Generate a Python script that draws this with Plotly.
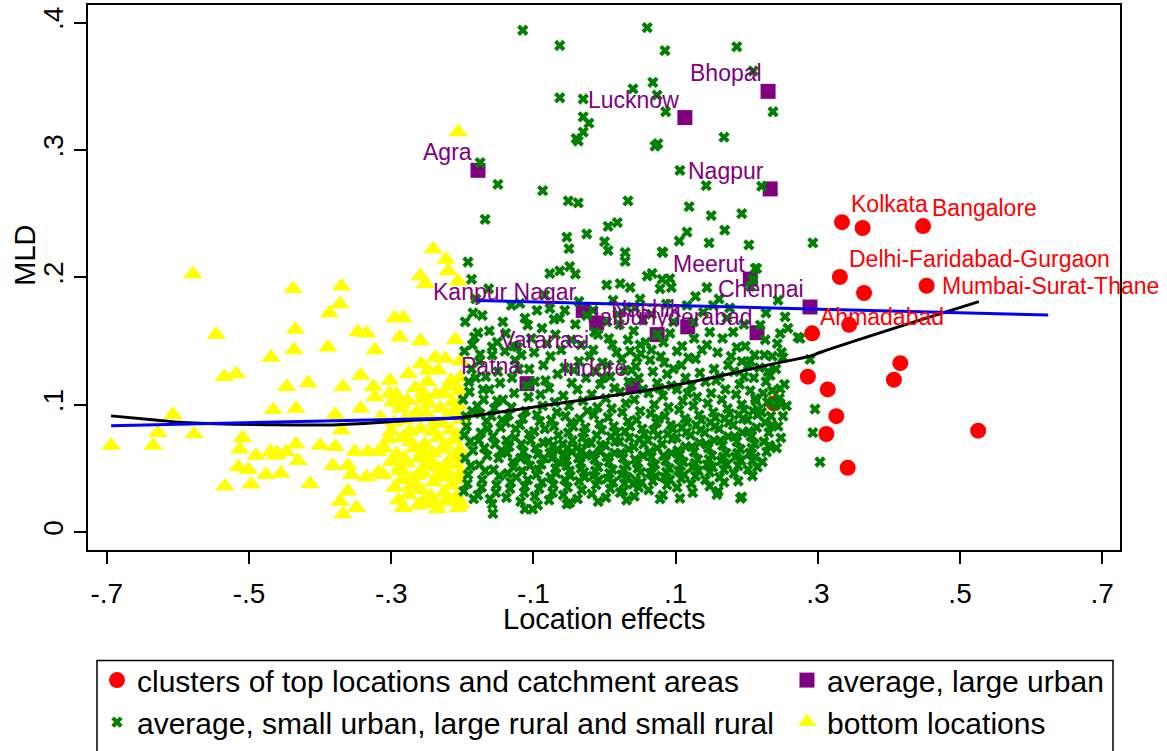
import plotly.graph_objects as go

# ---------------- data ----------------
red_x = [0.334, 0.363, 0.448, 0.331, 0.365, 0.453, 0.344, 0.292, 0.286, 0.314, 0.326, 0.312, 0.342, 0.238, 0.407, 0.416, 0.5255]
red_y = [0.2433, 0.2387, 0.2402, 0.2003, 0.1877, 0.1934, 0.1627, 0.156, 0.122, 0.112, 0.091, 0.077, 0.0505, 0.101, 0.1196, 0.1326, 0.0796]
red_names = ["Kolkata", "", "Bangalore", "Delhi-Faridabad-Gurgaon", "", "Mumbai-Surat-Thane", "", "Ahmadabad",
             "", "", "", "", "", "", "", "", ""]

purple_names = ["Bhopal", "Lucknow", "Agra", "Nagpur", "Meerut", "Chennai", "Kanpur Nagar", "Varanasi",
                "Jaipur", "Nashik", "Hyderabad", "Patna", "Indore"]
purple_x = [0.230, 0.113, -0.178, 0.233, 0.205, 0.289, -0.030, -0.011, 0.074, 0.117, 0.2145, -0.109, 0.040]
purple_y = [0.346, 0.3254, 0.284, 0.2694, 0.1986, 0.1767, 0.174, 0.1642, 0.155, 0.1611, 0.1565, 0.1165, 0.115]

yellow_pts = [
    (-0.694, 0.068), (-0.635, 0.068), (-0.628, 0.078), (-0.607, 0.092), (-0.577, 0.077), (-0.579, 0.2025),
    (-0.546, 0.155), (-0.535, 0.122), (-0.518, 0.124), (-0.534, 0.036), (-0.509, 0.074), (-0.513, 0.065),
    (-0.515, 0.051), (-0.501, 0.049), (-0.497, 0.0375), (-0.490, 0.060), (-0.476, 0.045), (-0.470, 0.063),
    (-0.469, 0.137), (-0.466, 0.096), (-0.455, 0.046), (-0.462, 0.060), (-0.448, 0.063), (-0.447, 0.114),
    (-0.438, 0.191), (-0.435, 0.159), (-0.437, 0.143), (-0.434, 0.097), (-0.434, 0.069), (-0.431, 0.056),
    (-0.417, 0.117), (-0.414, 0.038), (-0.400, 0.068), (-0.389, 0.145), (-0.387, 0.172), (-0.379, 0.067),
    (-0.382, 0.052), (-0.372, 0.179), (-0.370, 0.193), (-0.379, 0.092), (-0.368, 0.114), (-0.370, 0.080),
    (-0.372, 0.024), (-0.368, 0.014), (-0.361, 0.032), (-0.349, 0.019), (-0.361, 0.052), (-0.356, 0.045),
    (-0.351, 0.063), (-0.347, 0.157), (-0.335, 0.156), (-0.343, 0.123), (-0.343, 0.097), (-0.335, 0.043),
    (-0.333, 0.063), (-0.325, 0.114), (-0.323, 0.143), (-0.323, 0.106), (-0.318, 0.063), (-0.311, 0.045),
    (-0.304, 0.073), (-0.302, 0.119), (-0.302, 0.109), (-0.295, 0.168), (-0.283, 0.168), (-0.288, 0.153),
    (-0.283, 0.019), (-0.288, 0.050), (-0.286, 0.101), (-0.276, 0.124), (-0.270, 0.0375), (-0.259, 0.150),
    (-0.258, 0.132), (-0.255, 0.024), (-0.259, 0.201), (-0.252, 0.195), (-0.241, 0.222), (-0.223, 0.214),
    (-0.220, 0.205), (-0.206, 0.197), (-0.210, 0.151), (-0.203, 0.134), (-0.238, 0.137), (-0.224, 0.136),
    (-0.248, 0.127), (-0.234, 0.127), (-0.216, 0.119), (-0.227, 0.109), (-0.255, 0.109), (-0.238, 0.022),
    (-0.223, 0.024), (-0.202, 0.022), (-0.206, 0.314), (-0.461, 0.062),
    (-0.295, 0.035), (-0.288, 0.048), (-0.292, 0.061), (-0.284, 0.074), (-0.296, 0.086), (-0.287, 0.097),
    (-0.293, 0.108), (-0.282, 0.058), (-0.290, 0.025), (-0.276, 0.029), (-0.272, 0.042), (-0.279, 0.054),
    (-0.268, 0.066), (-0.274, 0.079), (-0.270, 0.091), (-0.277, 0.103), (-0.266, 0.113), (-0.273, 0.071),
    (-0.269, 0.036), (-0.262, 0.021), (-0.258, 0.033), (-0.255, 0.046), (-0.261, 0.058), (-0.253, 0.069),
    (-0.259, 0.081), (-0.251, 0.093), (-0.257, 0.104), (-0.249, 0.118), (-0.256, 0.063), (-0.252, 0.052),
    (-0.244, 0.028), (-0.240, 0.039), (-0.236, 0.051), (-0.242, 0.062), (-0.234, 0.074), (-0.239, 0.086),
    (-0.231, 0.097), (-0.237, 0.108), (-0.233, 0.045), (-0.241, 0.079), (-0.229, 0.065), (-0.235, 0.018),
    (-0.226, 0.031), (-0.222, 0.043), (-0.219, 0.056), (-0.224, 0.068), (-0.217, 0.080), (-0.221, 0.091),
    (-0.214, 0.102), (-0.218, 0.114), (-0.215, 0.037), (-0.223, 0.049), (-0.212, 0.072), (-0.220, 0.025),
    (-0.208, 0.028), (-0.205, 0.041), (-0.209, 0.053), (-0.203, 0.064), (-0.207, 0.076), (-0.202, 0.088),
    (-0.206, 0.099), (-0.204, 0.111), (-0.201, 0.047), (-0.210, 0.060), (-0.203, 0.121), (-0.206, 0.019),
    (-0.300, 0.079), (-0.298, 0.102), (-0.281, 0.088), (-0.263, 0.094), (-0.247, 0.101), (-0.228, 0.085),
    (-0.211, 0.094), (-0.246, 0.056), (-0.264, 0.044), (-0.285, 0.041), (-0.300, 0.055), (-0.310, 0.066),
    (-0.315, 0.090), (-0.318, 0.047),
]

green_sparse = [
    (-0.115, 0.394), (0.060, 0.396), (-0.063, 0.382), (0.085, 0.378), (0.186, 0.381), (0.209, 0.362),
    (0.068, 0.353), (0.040, 0.348), (-0.063, 0.341), (-0.030, 0.340), (0.074, 0.343), (0.086, 0.330),
    (0.237, 0.330), (-0.030, 0.326), (-0.022, 0.321), (-0.030, 0.314), (-0.040, 0.309), (-0.037, 0.307),
    (0.075, 0.305), (0.071, 0.303), (0.168, 0.310), (-0.175, 0.290), (0.106, 0.284), (0.143, 0.272),
    (0.221, 0.2715), (-0.150, 0.273), (-0.087, 0.268), (-0.051, 0.260), (-0.037, 0.2585), (0.033, 0.260),
    (-0.168, 0.2455), (0.119, 0.2555), (0.150, 0.2485), (0.193, 0.250), (0.169, 0.237), (0.116, 0.2355),
    (0.005, 0.240), (0.018, 0.243), (-0.053, 0.2315), (-0.025, 0.234), (0.000, 0.228), (-0.050, 0.2225),
    (0.005, 0.221), (0.029, 0.2195), (0.082, 0.2195), (0.105, 0.2285), (0.147, 0.227), (0.203, 0.2255),
    (-0.192, 0.212), (-0.187, 0.1985), (0.029, 0.2125), (0.081, 0.220), (-0.077, 0.203), (-0.049, 0.2085),
    (-0.041, 0.2025), (-0.063, 0.205), (0.003, 0.194), (0.022, 0.195), (0.036, 0.192), (0.060, 0.201),
    (0.067, 0.203), (0.081, 0.1985), (0.092, 0.199), (0.094, 0.192), (0.078, 0.191), (0.144, 0.192),
    (0.212, 0.207), (0.205, 0.193), (0.209, 0.1985), (-0.196, 0.165), (-0.185, 0.172), (-0.172, 0.170),
    (-0.143, 0.165), (-0.178, 0.1565), (-0.186, 0.147), (-0.158, 0.1455), (-0.175, 0.1395), (-0.140, 0.142),
    (-0.123, 0.1455), (-0.108, 0.1625), (-0.119, 0.1795), (-0.095, 0.174), (-0.077, 0.1755), (-0.063, 0.168),
    (-0.056, 0.174), (-0.025, 0.170), (-0.009, 0.155), (0.003, 0.165), (0.012, 0.182), (0.031, 0.1765),
    (0.050, 0.183), (0.054, 0.1665), (0.050, 0.147), (0.036, 0.142), (0.074, 0.155), (0.092, 0.156),
    (0.097, 0.165), (0.102, 0.142), (0.116, 0.178), (0.125, 0.165), (0.139, 0.1725), (0.153, 0.178),
    (0.148, 0.157), (0.144, 0.147), (0.172, 0.168), (0.181, 0.157), (0.186, 0.145), (0.193, 0.134),
    (0.205, 0.134), (0.219, 0.1625), (0.247, 0.156), (0.258, 0.160), (0.272, 0.153), (0.233, 0.123),
    (0.247, 0.1125), (0.240, 0.0995), (0.236, 0.084), (0.212, 0.105), (0.216, 0.096), (0.207, 0.0755),
    (0.191, 0.0265), (0.158, 0.0295), (0.106, 0.0265), (0.078, 0.026), (0.040, 0.0375), (0.026, 0.032),
    (-0.053, 0.022), (-0.101, 0.018), (-0.157, 0.0145), (-0.161, 0.026), (0.237, 0.1025), (0.247, 0.101),
    (0.296, 0.0965), (0.293, 0.078), (0.303, 0.055), (0.215, 0.051), (0.193, 0.0275), (0.160, 0.032),
    (0.289, 0.1355), (0.251, 0.137), (0.275, 0.152), (0.293, 0.227), (0.214, 0.207), (0.244, 0.182),
    (0.254, 0.169),
]

green_band = [
    (-0.197, 0.142), (-0.183, 0.153), (-0.162, 0.158), (-0.151, 0.149), (-0.139, 0.156), (-0.128, 0.146),
    (-0.117, 0.139), (-0.103, 0.152), (-0.099, 0.141), (-0.088, 0.160), (-0.081, 0.148), (-0.069, 0.155),
    (-0.061, 0.143), (-0.047, 0.151), (-0.041, 0.163), (-0.033, 0.147), (-0.021, 0.138), (-0.014, 0.157),
    (-0.003, 0.133), (0.006, 0.152), (0.017, 0.141), (0.021, 0.163), (0.033, 0.151), (0.041, 0.158),
    (0.046, 0.137), (0.058, 0.149), (0.066, 0.143), (0.079, 0.138), (0.083, 0.149), (0.097, 0.128),
    (0.109, 0.146), (0.118, 0.137), (0.126, 0.152), (0.137, 0.143), (0.159, 0.141), (0.166, 0.152),
    (0.178, 0.138), (0.198, 0.146), (0.211, 0.139), (0.226, 0.151), (0.236, 0.138), (-0.181, 0.183),
    (-0.163, 0.191), (-0.131, 0.178), (-0.112, 0.168), (-0.084, 0.186), (-0.071, 0.167), (-0.036, 0.181),
    (-0.016, 0.174), (0.019, 0.171), (0.043, 0.176), (0.066, 0.171), (0.087, 0.179), (0.128, 0.185),
    (0.161, 0.183), (0.176, 0.176), (0.196, 0.163), (0.227, 0.172), (-0.121, 0.128), (-0.083, 0.119),
    (-0.043, 0.127), (-0.002, 0.121), (0.038, 0.127), (0.077, 0.113), (0.117, 0.109), (0.157, 0.119),
    (0.196, 0.122), (-0.162, 0.112), (-0.143, 0.104), (-0.181, 0.121), (0.236, 0.111), (0.218, 0.129),
]

green_core = [
    (-0.198, 0.032), (-0.192, 0.045), (-0.196, 0.058), (-0.189, 0.071), (-0.194, 0.083), (-0.186, 0.095),
    (-0.199, 0.104), (-0.191, 0.118), (-0.188, 0.052), (-0.197, 0.076), (-0.185, 0.064), (-0.193, 0.038),
    (-0.187, 0.128), (-0.195, 0.091), (-0.184, 0.026), (-0.190, 0.110),
    (-0.178, 0.029), (-0.172, 0.041), (-0.176, 0.053), (-0.169, 0.066), (-0.174, 0.078), (-0.166, 0.087),
    (-0.179, 0.099), (-0.171, 0.112), (-0.168, 0.048), (-0.177, 0.072), (-0.165, 0.060), (-0.173, 0.035),
    (-0.167, 0.122), (-0.175, 0.093), (-0.164, 0.081), (-0.170, 0.104), (-0.176, 0.134),
    (-0.158, 0.022), (-0.152, 0.037), (-0.156, 0.049), (-0.149, 0.058), (-0.154, 0.069), (-0.146, 0.082),
    (-0.159, 0.091), (-0.151, 0.103), (-0.148, 0.044), (-0.157, 0.075), (-0.145, 0.064), (-0.153, 0.031),
    (-0.147, 0.117), (-0.155, 0.097), (-0.144, 0.088), (-0.150, 0.126), (-0.158, 0.139),
    (-0.138, 0.027), (-0.132, 0.039), (-0.136, 0.046), (-0.129, 0.055), (-0.134, 0.067), (-0.126, 0.074),
    (-0.139, 0.086), (-0.131, 0.098), (-0.128, 0.051), (-0.137, 0.062), (-0.125, 0.081), (-0.133, 0.034),
    (-0.127, 0.109), (-0.135, 0.092), (-0.124, 0.043), (-0.130, 0.121), (-0.138, 0.072), (-0.126, 0.135),
    (-0.118, 0.024), (-0.112, 0.036), (-0.116, 0.048), (-0.109, 0.057), (-0.114, 0.063), (-0.106, 0.077),
    (-0.119, 0.084), (-0.111, 0.095), (-0.108, 0.041), (-0.117, 0.069), (-0.105, 0.052), (-0.113, 0.031),
    (-0.107, 0.106), (-0.115, 0.089), (-0.104, 0.072), (-0.110, 0.115), (-0.118, 0.058), (-0.106, 0.128),
    (-0.112, 0.018),
    (-0.098, 0.028), (-0.092, 0.034), (-0.096, 0.045), (-0.089, 0.053), (-0.094, 0.061), (-0.086, 0.070),
    (-0.099, 0.079), (-0.091, 0.087), (-0.088, 0.039), (-0.097, 0.066), (-0.085, 0.058), (-0.093, 0.049),
    (-0.087, 0.099), (-0.095, 0.092), (-0.084, 0.081), (-0.090, 0.108), (-0.098, 0.118), (-0.086, 0.131),
    (-0.094, 0.021),
    (-0.078, 0.025), (-0.072, 0.037), (-0.076, 0.043), (-0.069, 0.050), (-0.074, 0.058), (-0.066, 0.064),
    (-0.079, 0.071), (-0.071, 0.083), (-0.068, 0.046), (-0.077, 0.062), (-0.065, 0.076), (-0.073, 0.031),
    (-0.067, 0.094), (-0.075, 0.088), (-0.064, 0.055), (-0.070, 0.102), (-0.078, 0.113), (-0.066, 0.124),
    (-0.072, 0.068), (-0.076, 0.138),
    (-0.058, 0.029), (-0.052, 0.035), (-0.056, 0.041), (-0.049, 0.048), (-0.054, 0.056), (-0.046, 0.063),
    (-0.059, 0.069), (-0.051, 0.078), (-0.048, 0.044), (-0.057, 0.061), (-0.045, 0.072), (-0.053, 0.052),
    (-0.047, 0.086), (-0.055, 0.091), (-0.044, 0.083), (-0.050, 0.099), (-0.058, 0.107), (-0.046, 0.117),
    (-0.052, 0.066), (-0.056, 0.129), (-0.049, 0.023),
    (-0.038, 0.026), (-0.032, 0.033), (-0.036, 0.040), (-0.029, 0.047), (-0.034, 0.054), (-0.026, 0.060),
    (-0.039, 0.066), (-0.031, 0.074), (-0.028, 0.043), (-0.037, 0.058), (-0.025, 0.070), (-0.033, 0.050),
    (-0.027, 0.082), (-0.035, 0.089), (-0.024, 0.095), (-0.030, 0.103), (-0.038, 0.112), (-0.026, 0.121),
    (-0.032, 0.064), (-0.036, 0.134), (-0.029, 0.078),
    (-0.018, 0.030), (-0.012, 0.037), (-0.016, 0.044), (-0.009, 0.051), (-0.014, 0.057), (-0.006, 0.063),
    (-0.019, 0.070), (-0.011, 0.076), (-0.008, 0.041), (-0.017, 0.061), (-0.005, 0.068), (-0.013, 0.048),
    (-0.007, 0.085), (-0.015, 0.092), (-0.004, 0.080), (-0.010, 0.098), (-0.018, 0.108), (-0.006, 0.116),
    (-0.012, 0.126), (-0.016, 0.143), (-0.009, 0.024),
    (0.002, 0.027), (0.008, 0.034), (0.004, 0.042), (0.011, 0.049), (0.006, 0.055), (0.014, 0.062),
    (0.001, 0.068), (0.009, 0.075), (0.012, 0.039), (0.003, 0.059), (0.015, 0.071), (0.007, 0.046),
    (0.013, 0.083), (0.005, 0.090), (0.016, 0.078), (0.010, 0.097), (0.002, 0.105), (0.014, 0.113),
    (0.008, 0.122), (0.004, 0.131), (0.011, 0.147),
    (0.022, 0.031), (0.028, 0.038), (0.024, 0.045), (0.031, 0.052), (0.026, 0.058), (0.034, 0.065),
    (0.021, 0.071), (0.029, 0.079), (0.032, 0.043), (0.023, 0.062), (0.035, 0.074), (0.027, 0.049),
    (0.033, 0.087), (0.025, 0.094), (0.036, 0.083), (0.030, 0.101), (0.022, 0.110), (0.034, 0.118),
    (0.028, 0.127), (0.024, 0.136), (0.031, 0.025),
    (0.042, 0.028), (0.048, 0.035), (0.044, 0.041), (0.051, 0.047), (0.046, 0.054), (0.054, 0.060),
    (0.041, 0.067), (0.049, 0.073), (0.052, 0.039), (0.043, 0.057), (0.055, 0.069), (0.047, 0.050),
    (0.053, 0.081), (0.045, 0.088), (0.056, 0.077), (0.050, 0.095), (0.042, 0.104), (0.054, 0.112),
    (0.048, 0.121), (0.044, 0.130), (0.051, 0.140),
    (0.062, 0.033), (0.068, 0.040), (0.064, 0.046), (0.071, 0.053), (0.066, 0.059), (0.074, 0.066),
    (0.061, 0.072), (0.069, 0.080), (0.072, 0.044), (0.063, 0.063), (0.075, 0.076), (0.067, 0.051),
    (0.073, 0.086), (0.065, 0.093), (0.076, 0.089), (0.070, 0.100), (0.062, 0.109), (0.074, 0.117),
    (0.068, 0.126), (0.064, 0.135),
    (0.082, 0.029), (0.088, 0.037), (0.084, 0.043), (0.091, 0.050), (0.086, 0.056), (0.094, 0.062),
    (0.081, 0.069), (0.089, 0.077), (0.092, 0.041), (0.083, 0.060), (0.095, 0.073), (0.087, 0.047),
    (0.093, 0.084), (0.085, 0.091), (0.096, 0.081), (0.090, 0.098), (0.082, 0.107), (0.094, 0.115),
    (0.088, 0.124), (0.084, 0.133),
    (0.102, 0.035), (0.108, 0.042), (0.104, 0.048), (0.111, 0.055), (0.106, 0.061), (0.114, 0.067),
    (0.101, 0.074), (0.109, 0.082), (0.112, 0.045), (0.103, 0.064), (0.115, 0.078), (0.107, 0.052),
    (0.113, 0.089), (0.105, 0.096), (0.116, 0.086), (0.110, 0.103), (0.102, 0.112), (0.114, 0.121),
    (0.108, 0.131), (0.104, 0.058),
    (0.122, 0.038), (0.128, 0.044), (0.124, 0.051), (0.131, 0.057), (0.126, 0.063), (0.134, 0.070),
    (0.121, 0.076), (0.129, 0.084), (0.132, 0.048), (0.123, 0.067), (0.135, 0.080), (0.127, 0.054),
    (0.133, 0.092), (0.125, 0.099), (0.136, 0.088), (0.130, 0.106), (0.122, 0.115), (0.134, 0.125),
    (0.128, 0.136), (0.124, 0.031),
    (0.142, 0.041), (0.148, 0.047), (0.144, 0.053), (0.151, 0.060), (0.146, 0.066), (0.154, 0.072),
    (0.141, 0.078), (0.149, 0.086), (0.152, 0.051), (0.143, 0.069), (0.155, 0.083), (0.147, 0.057),
    (0.153, 0.094), (0.145, 0.101), (0.156, 0.090), (0.150, 0.109), (0.142, 0.118), (0.154, 0.128),
    (0.148, 0.036),
    (0.162, 0.043), (0.168, 0.049), (0.164, 0.056), (0.171, 0.062), (0.166, 0.068), (0.174, 0.075),
    (0.161, 0.081), (0.169, 0.089), (0.172, 0.053), (0.163, 0.072), (0.175, 0.086), (0.167, 0.059),
    (0.173, 0.097), (0.165, 0.104), (0.176, 0.093), (0.170, 0.112), (0.162, 0.122), (0.174, 0.131),
    (0.168, 0.039),
    (0.182, 0.046), (0.188, 0.052), (0.184, 0.059), (0.191, 0.065), (0.186, 0.071), (0.194, 0.078),
    (0.181, 0.084), (0.189, 0.092), (0.192, 0.056), (0.183, 0.075), (0.195, 0.089), (0.187, 0.062),
    (0.193, 0.100), (0.185, 0.108), (0.196, 0.096), (0.190, 0.116), (0.182, 0.126), (0.188, 0.040),
    (0.202, 0.049), (0.208, 0.056), (0.204, 0.062), (0.211, 0.069), (0.206, 0.075), (0.214, 0.082),
    (0.201, 0.088), (0.209, 0.095), (0.212, 0.059), (0.203, 0.079), (0.215, 0.092), (0.207, 0.066),
    (0.213, 0.103), (0.205, 0.111), (0.210, 0.121), (0.202, 0.131), (0.208, 0.044),
    (0.222, 0.055), (0.228, 0.063), (0.224, 0.071), (0.231, 0.078), (0.226, 0.086), (0.221, 0.094),
    (0.229, 0.102), (0.232, 0.068), (0.223, 0.109), (0.227, 0.118), (0.230, 0.126), (0.225, 0.139),
    (0.234, 0.091),
    (0.242, 0.066), (0.248, 0.074), (0.244, 0.083), (0.251, 0.091), (0.246, 0.105), (0.253, 0.116),
    (0.241, 0.128), (0.249, 0.141), (0.256, 0.099), (0.243, 0.148),
]

# fitted curve (black) and linear fits (blue)
fit_x = [-0.694, -0.632, -0.585, -0.473, -0.375, -0.281, -0.196, -0.137, -0.044, 0.050, 0.144, 0.237, 0.289, 0.303, 0.430, 0.5265]
fit_y = [0.0912, 0.088, 0.0858, 0.0843, 0.0843, 0.0873, 0.0904, 0.095, 0.1027, 0.1104, 0.1204, 0.132, 0.1381, 0.141, 0.164, 0.1809]
lin1_x = [-0.694, -0.200]
lin1_y = [0.0834, 0.0896]
lin2_x = [-0.179, 0.624]
lin2_y = [0.1818, 0.1704]

x_ticks = [-0.7, -0.5, -0.3, -0.1, 0.1, 0.3, 0.5, 0.7]
x_ticktext = ["-.7", "-.5", "-.3", "-.1", ".1", ".3", ".5", ".7"]
y_ticks = [0, 0.1, 0.2, 0.3, 0.4]
y_ticktext = ["0", ".1", ".2", ".3", ".4"]

# ---------------- styling ----------------
FONT = "Liberation Sans, Arial, sans-serif"
RED, PURPLE, GREEN, YELLOW, BLUE = "#FF0000", "#800080", "#008000", "#FFFF00", "#0000FF"

fig = go.Figure()
fig.add_trace(go.Scatter(x=red_x, y=red_y, mode="markers", name="clusters of top locations and catchment areas",
                         marker=dict(symbol="circle", size=16, color=RED, line=dict(width=0)), legend="legend"))
fig.add_trace(go.Scatter(x=purple_x, y=purple_y, mode="markers", name="average, large urban",
                         marker=dict(symbol="square", size=15, color=PURPLE, line=dict(width=0)), legend="legend2"))
fig.add_trace(go.Scatter(x=[p[0] for p in yellow_pts], y=[p[1] for p in yellow_pts], mode="markers",
                         name="bottom locations",
                         marker=dict(symbol="triangle-up", size=17, color=YELLOW, line=dict(width=0)), legend="legend2"))
green_all = green_sparse + green_band + green_core
gx = [p[0] for p in green_all]
gy = [p[1] for p in green_all]
fig.add_trace(go.Scatter(x=gx, y=gy, mode="markers", name="average, small urban, large rural and small rural",
                         marker=dict(symbol="x", size=10, color=GREEN, line=dict(width=0)), legend="legend"))
fig.add_trace(go.Scatter(x=fit_x, y=fit_y, mode="lines", line=dict(color="black", width=3, shape="spline"),
                         showlegend=False, hoverinfo="skip"))
fig.add_trace(go.Scatter(x=lin1_x, y=lin1_y, mode="lines", line=dict(color=BLUE, width=3),
                         showlegend=False, hoverinfo="skip"))
fig.add_trace(go.Scatter(x=lin2_x, y=lin2_y, mode="lines", line=dict(color=BLUE, width=3),
                         showlegend=False, hoverinfo="skip"))

annotations = []
# purple labels: placed up-left of the square, right-aligned
purple_shift = {"Varanasi": (-6, -17), "Meerut": (-3, 15), "Hyderabad": (-2, 16)}
for n, x, y in zip(purple_names, purple_x, purple_y):
    dx, dy = purple_shift.get(n, (-4, 18))
    annotations.append(dict(x=x, y=y, text=n, showarrow=False, xanchor="right", yanchor="middle",
                            xshift=dx, yshift=dy, font=dict(family=FONT, size=23, color=PURPLE)))
red_shift = {"Mumbai-Surat-Thane": (13, 0), "Ahmadabad": (6, 16)}
for n, x, y in zip(red_names, red_x, red_y):
    if not n:
        continue
    dx, dy = red_shift.get(n, (7, 18))
    annotations.append(dict(x=x, y=y, text=n, showarrow=False, xanchor="left", yanchor="middle",
                            xshift=dx, yshift=dy, font=dict(family=FONT, size=23, color=RED)))
# axis titles
annotations.append(dict(xref="paper", yref="paper", x=0.5, y=-0.126, text="Location effects", showarrow=False,
                        xanchor="center", yanchor="middle", font=dict(family=FONT, size=29, color="black")))
annotations.append(dict(xref="paper", yref="paper", x=-0.0605, y=0.541, text="MLD", showarrow=False,
                        textangle=-90, xanchor="center", yanchor="middle", font=dict(family=FONT, size=29, color="black")))

fig.update_layout(
    width=1167, height=751,
    margin=dict(l=88, r=47, t=3, b=191, pad=0),
    paper_bgcolor="white", plot_bgcolor="white",
    font=dict(family=FONT, color="black"),
    annotations=annotations,
    legend=dict(orientation="v", x=0.0087, xanchor="left", y=-0.191, yanchor="top",
                font=dict(family=FONT, size=30, color="black"), bgcolor="rgba(0,0,0,0)", borderwidth=0,
                tracegroupgap=0),
    legend2=dict(orientation="v", x=0.6773, xanchor="left", y=-0.191, yanchor="top",
                 font=dict(family=FONT, size=30, color="black"), bgcolor="rgba(0,0,0,0)", borderwidth=0,
                 tracegroupgap=0),
    shapes=[dict(type="rect", xref="paper", yref="paper", x0=0.0087, x1=0.9932, y0=-0.2029, y1=-0.45,
                 line=dict(color="black", width=1.5), fillcolor="rgba(0,0,0,0)", layer="above")],
    showlegend=True,
)
fig.update_xaxes(range=[-0.7265, 0.725], tickvals=x_ticks, ticktext=x_ticktext, ticks="outside", ticklen=12,
                 tickwidth=1.5, tickcolor="black", showline=True, linecolor="black", linewidth=2, mirror=True,
                 showgrid=False, zeroline=False, ticklabelstandoff=5,
                 tickfont=dict(family=FONT, size=28, color="black"))
fig.update_yaxes(range=[-0.0141, 0.4138], tickvals=y_ticks, ticktext=y_ticktext, ticks="outside", ticklen=12,
                 tickwidth=1.5, tickcolor="black", showline=True, linecolor="black", linewidth=2, mirror=True,
                 showgrid=False, zeroline=False, tickangle=-90, tickfont=dict(family=FONT, size=28, color="black"))

fig.write_html("out.html")
